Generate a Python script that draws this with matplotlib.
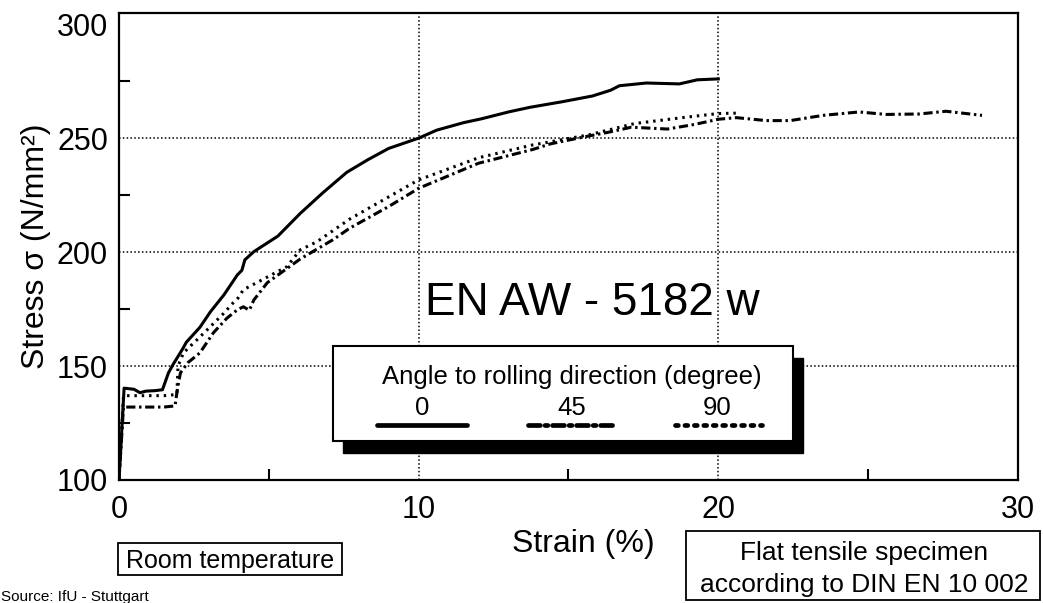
import matplotlib
matplotlib.use("Agg")
import matplotlib.pyplot as plt
from matplotlib.patches import Rectangle
from matplotlib.lines import Line2D

plt.rcParams['font.family'] = ['Liberation Sans', 'DejaVu Sans']

# 0 degree (solid)
strain_0 = [0, 0.17, 0.5, 0.7, 0.9, 1.2, 1.45, 1.65, 1.8, 2.1, 2.25, 2.7, 3.05, 3.5, 3.95, 4.1,
            4.2, 4.5, 5.3, 6.05, 6.8, 7.6, 8.3, 9.0, 10.0, 10.6, 11.5, 12.1, 13.0, 13.7, 14.8,
            15.8, 16.4, 16.7, 17.6, 18.7, 19.3, 20.0]
stress_0 = [100, 140.3, 139.8, 138.3, 139.0, 139.2, 139.6, 147, 150.6, 157, 160.5, 167, 173.8,
            181.2, 190, 192, 196.6, 200.2, 207, 217, 226, 235, 240.5, 245.5, 250, 253.5, 256.8,
            258.5, 261.5, 263.5, 266, 268.5, 271, 273, 274.2, 273.8, 275.6, 276]

# 45 degree (dash-dot)
strain_45 = [0, 0.15, 0.5, 1.0, 1.5, 1.87, 1.95, 2.05, 2.3, 2.7, 3.15, 3.6, 3.95, 4.15, 4.35,
             4.5, 4.95, 6.05, 7.15, 7.7, 9.0, 10.0, 12.0, 13.8, 14.4, 15.5, 16.3, 17.1, 18.3,
             19.2, 20.0, 20.6, 21.6, 22.4, 23.5, 24.7, 25.6, 26.7, 27.6, 28.8]
stress_45 = [100, 132, 132, 132, 132, 132.5, 140, 147, 151.5, 155.8, 164.6, 171, 174.7, 176,
             174.5, 179, 186.6, 197, 205.5, 210.5, 220, 228, 239, 245, 247.5, 250.5, 252.5,
             254.8, 254, 256, 258.3, 259, 257.7, 257.7, 260, 261.5, 260.4, 260.6, 261.8, 260]

# 90 degree (dotted)
strain_90 = [0, 0.15, 0.5, 1.0, 1.5, 1.93, 1.97, 2.15, 2.6, 3.05, 3.5, 3.8, 3.97, 4.15, 4.6,
             5.6, 6.05, 6.6, 7.7, 8.3, 10.0, 12.0, 13.8, 15.7, 17.2, 18.8, 20.0, 20.7]
stress_90 = [100, 137, 137, 137, 137, 137.5, 150, 155.8, 161.5, 167.3, 173.2, 177.6, 179.8,
             183.5, 186.6, 193.6, 201, 204.5, 214.5, 219, 231.7, 241.4, 247, 251.5, 256.4, 259,
             260.8, 261]

angle_labels = ['0', '45', '90']
x_major = [0, 10, 20, 30]
x_minor = [5, 15, 25]
y_major = [100, 150, 200, 250, 300]
y_minor = [125, 175, 225, 275]

fig = plt.figure(figsize=(10.43, 6.03), dpi=100)
ax = fig.add_axes([0.1141, 0.2040, 0.8619, 0.7740])

ax.plot(strain_0, stress_0, color='black', lw=2.2, ls='-', zorder=3)
ax.plot(strain_45, stress_45, color='black', lw=2.2, ls=(0, (3, 1.2, 0.8, 1.2)), zorder=3)
ax.plot(strain_90, stress_90, color='black', lw=2.2, ls=(0, (0.8, 1.6)), zorder=3)

ax.set_xlim(0, 30)
ax.set_ylim(100, 304.8)
ax.set_xticks(x_major)
ax.set_xticks(x_minor, minor=True)
ax.set_yticks(y_major)
ax.set_yticks(y_minor, minor=True)
ax.tick_params(axis='both', which='major', labelsize=22, length=0)
ax.tick_params(axis='x', which='major', pad=11)
ax.tick_params(axis='y', which='major', pad=8)
ax.tick_params(which='minor', direction='in', length=8, width=1.5)
for s in ax.spines.values():
    s.set_linewidth(1.6)

# dotted grid
for gx in [10, 20]:
    ax.axvline(gx, color='black', lw=1.1, ls=(0, (1, 1.5)), zorder=1)
for gy in [150, 200, 250]:
    ax.axhline(gy, color='black', lw=1.1, ls=(0, (1, 1.5)), zorder=1)

ax.set_ylabel('Stress σ (N/mm²)', fontsize=23, labelpad=4)
ax.set_xlabel('Strain (%)', fontsize=23)
ax.xaxis.set_label_coords(0.516, -0.105)

fig.text(0.4075, 0.4776, 'EN AW - 5182 w', fontsize=33, va='baseline', ha='left')

# legend box with shadow
fig.add_artist(Rectangle((0.3289, 0.2488), 0.441, 0.1575, transform=fig.transFigure,
                         facecolor='black', edgecolor='black', zorder=5))
fig.add_artist(Rectangle((0.3193, 0.2687), 0.441, 0.1575, transform=fig.transFigure,
                         facecolor='white', edgecolor='black', lw=1.5, zorder=6))
fig.text(0.5484, 0.3748, 'Angle to rolling direction (degree)', fontsize=18.5,
         ha='center', va='center', zorder=7)
label_x = [0.4046, 0.5484, 0.6874]
sample_x = [(0.3615, 0.4477), (0.5062, 0.5896), (0.6472, 0.7306)]
sample_ls = ['-', (0, (2.5, 1.0, 0.6, 1.0)), (0, (0.6, 1.4))]
for lab, lx, (x0, x1), ls in zip(angle_labels, label_x, sample_x, sample_ls):
    fig.text(lx, 0.3234, lab, fontsize=18.5, ha='center', va='center', zorder=7)
    fig.add_artist(Line2D([x0, x1], [0.2952, 0.2952], transform=fig.transFigure,
                          color='black', lw=3.4, ls=ls, solid_capstyle='round',
                          dash_capstyle='round', zorder=7))

# bottom boxes
fig.add_artist(Rectangle((0.1131, 0.0464), 0.2148, 0.0531, transform=fig.transFigure,
                         facecolor='white', edgecolor='black', lw=1.3))
fig.text(0.2205, 0.0700, 'Room temperature', fontsize=18, ha='center', va='center')
fig.add_artist(Rectangle((0.6577, 0.005), 0.3394, 0.1144, transform=fig.transFigure,
                         facecolor='white', edgecolor='black', lw=1.3))
fig.text(0.8284, 0.0830, 'Flat tensile specimen', fontsize=19, ha='center', va='center')
fig.text(0.8284, 0.0300, 'according to DIN EN 10 002', fontsize=19, ha='center', va='center')

fig.text(0.001, 0.004, 'Source: IfU - Stuttgart', fontsize=11, ha='left', va='baseline')

fig.savefig('out.png', dpi=100)
